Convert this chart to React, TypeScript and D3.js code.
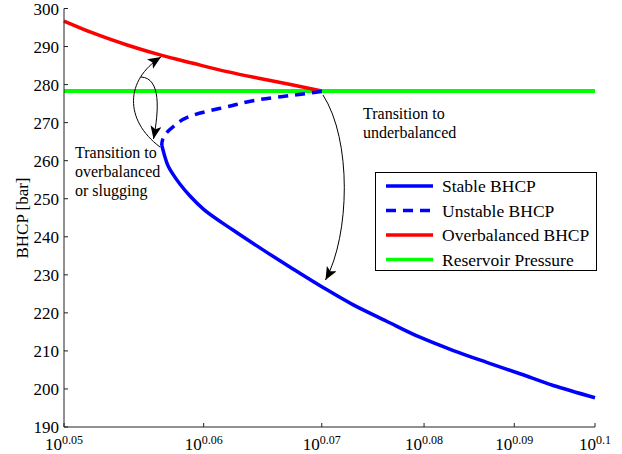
import React from "react";
import * as d3 from "d3";

// x values (log axis, labelled the MATLAB way as 10^...)
const xTicks = [0.05, 0.06, 0.07, 0.08, 0.09, 0.1];
const xTickExp = ["0.05", "0.06", "0.07", "0.08", "0.09", "0.1"];
const yTicks = [190, 200, 210, 220, 230, 240, 250, 260, 270, 280, 290, 300];

// stable branch
const stableX = [0.0568, 0.0569, 0.05705, 0.05728, 0.05765, 0.05818, 0.05894, 0.06, 0.06237, 0.06516, 0.06718, 0.07016, 0.07294, 0.07619, 0.07957, 0.08312, 0.08681, 0.09067, 0.0947, 0.1];
const stableY = [264.1, 262.8, 260.9, 258.6, 256.4, 253.8, 250.7, 247.2, 241.7, 235.9, 232.0, 226.6, 222.1, 217.8, 213.6, 210.1, 207.0, 204.0, 200.9, 197.7];

// unstable branch
const unstableX = [0.07, 0.0674, 0.0646, 0.0619, 0.0592, 0.05765, 0.0569, 0.0568];
const unstableY = [278.2, 277.2, 276.1, 274.2, 272.0, 268.9, 265.9, 264.1];

// overbalanced
const overX = [0.05, 0.05196, 0.05429, 0.05668, 0.05917, 0.06186, 0.06458, 0.06742, 0.07];
const overY = [296.7, 293.5, 290.4, 287.8, 285.6, 283.4, 281.6, 279.9, 278.3];

const reservoirP = 278.3;

const legendItems = [
  { label: "Stable BHCP", color: "#0000ff", dash: null },
  { label: "Unstable BHCP", color: "#0000ff", dash: "10,7" },
  { label: "Overbalanced BHCP", color: "#ff0000", dash: null },
  { label: "Reservoir Pressure", color: "#00ff00", dash: null },
];

const FONT = "'Liberation Serif', 'Times New Roman', serif";

export default function App() {
  const width = 622;
  const height = 454;

  const x = d3.scaleLog().domain([0.05, 0.1]).range([64, 595]);
  const y = d3.scaleLinear().domain([190, 300]).range([427, 8.5]);

  const zip = (xs: number[], ys: number[]) => xs.map((v, i) => [v, ys[i]] as [number, number]);

  // blue branches are monotone in y, the red one in x
  const lineY = d3
    .line<[number, number]>()
    .x((d) => x(d[0]))
    .y((d) => y(d[1]))
    .curve(d3.curveMonotoneY);
  const lineX = d3
    .line<[number, number]>()
    .x((d) => x(d[0]))
    .y((d) => y(d[1]))
    .curve(d3.curveMonotoneX);

  return (
    <svg
      width={width}
      height={height}
      style={{ position: "absolute", left: 0, top: 0, background: "#fff" }}
      fontFamily={FONT}
    >
      <defs>
        <marker
          id="head"
          markerUnits="userSpaceOnUse"
          markerWidth={14}
          markerHeight={12}
          refX={13}
          refY={5.5}
          orient="auto"
        >
          <path d="M0,0 L13,5.5 L0,11 L3,5.5 z" fill="#000" />
        </marker>
      </defs>

      {/* data lines */}
      <line
        x1={x(0.05)}
        x2={x(0.1)}
        y1={y(reservoirP)}
        y2={y(reservoirP)}
        stroke="#00ff00"
        strokeWidth={4}
      />
      <path d={lineX(zip(overX, overY)) || ""} fill="none" stroke="#ff0000" strokeWidth={3.5} />
      <path
        d={lineY(zip(unstableX, unstableY)) || ""}
        fill="none"
        stroke="#0000ff"
        strokeWidth={3.5}
        strokeDasharray="10,7"
      />
      <path d={lineY(zip(stableX, stableY)) || ""} fill="none" stroke="#0000ff" strokeWidth={3.5} />

      {/* axes */}
      <line x1={64} x2={64} y1={y(300)} y2={y(190)} stroke="#222" strokeWidth={1} />
      <line x1={x(0.05)} x2={x(0.1)} y1={427} y2={427} stroke="#222" strokeWidth={1} />
      {yTicks.map((t) => (
        <g key={t}>
          <line x1={64} x2={68} y1={y(t)} y2={y(t)} stroke="#222" />
          <text x={59} y={y(t) + 0.5} textAnchor="end" dominantBaseline="central" fontSize={17}>
            {t}
          </text>
        </g>
      ))}
      {xTicks.map((t, i) => (
        <g key={t}>
          <line x1={x(t)} x2={x(t)} y1={427} y2={423} stroke="#222" />
          <text x={x(t)} y={450} textAnchor="middle" fontSize={17}>
            10
            <tspan fontSize={12} dy={-6.5}>
              {xTickExp[i]}
            </tspan>
          </text>
        </g>
      ))}
      <text
        transform="translate(22,218) rotate(-90)"
        textAnchor="middle"
        dominantBaseline="central"
        fontSize={17}
      >
        BHCP [bar]
      </text>

      {/* annotations */}
      <path d="M323,95 C352,140 350,235 325.5,280" fill="none" stroke="#000" strokeWidth={1} markerEnd="url(#head)" />
      <path d="M160,147 C124,120 125,80 161,57" fill="none" stroke="#000" strokeWidth={1} markerEnd="url(#head)" />
      <path d="M141,77 C161,78 159,110 153.5,139" fill="none" stroke="#000" strokeWidth={1} markerEnd="url(#head)" />
      <text x={363} y={119} fontSize={16}>Transition to</text>
      <text x={363} y={138} fontSize={16}>underbalanced</text>
      <text x={75} y={158} fontSize={16}>Transition to</text>
      <text x={75} y={177} fontSize={16}>overbalanced</text>
      <text x={75} y={196} fontSize={16}>or slugging</text>

      {/* legend */}
      <rect x={375.5} y={172.5} width={221} height={98} fill="#fff" stroke="#000" strokeWidth={1} />
      {legendItems.map((d, i) => {
        const ly = 186 + i * 24.5;
        return (
          <g key={d.label}>
            <line
              x1={386}
              x2={433}
              y1={ly}
              y2={ly}
              stroke={d.color}
              strokeWidth={3.5}
              strokeDasharray={d.dash || undefined}
            />
            <text x={442} y={ly} dominantBaseline="central" fontSize={17.5}>
              {d.label}
            </text>
          </g>
        );
      })}
    </svg>
  );
}
